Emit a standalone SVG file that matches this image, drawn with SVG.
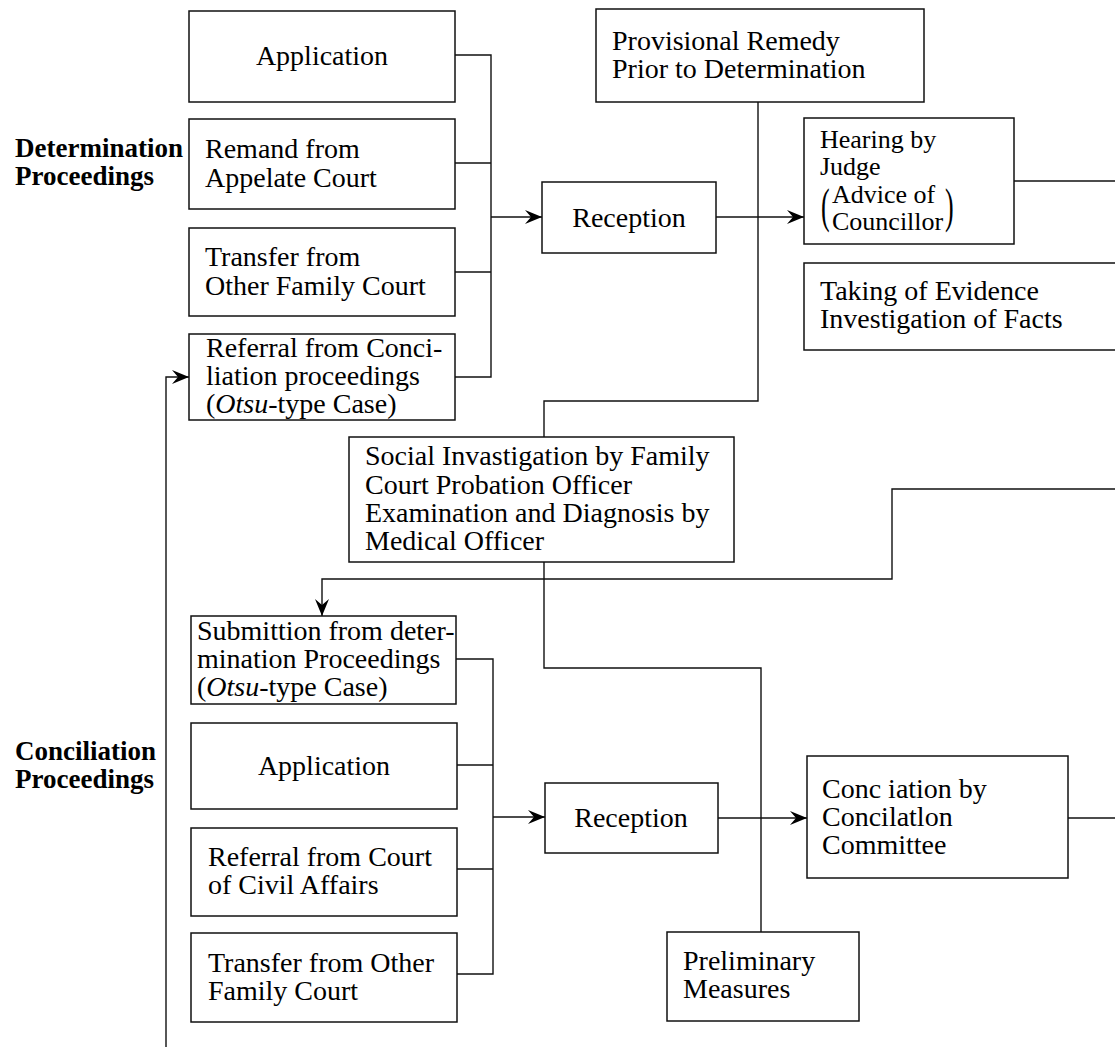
<svg xmlns="http://www.w3.org/2000/svg" width="1115" height="1052" viewBox="0 0 1115 1052">
<defs>
<style>
.box{fill:#fff;stroke:#111;stroke-width:1.5}
.t{font-family:"Liberation Serif","Times New Roman",serif;font-size:28px;fill:#000}
.s{font-size:26px}
.c{text-anchor:middle}
.lbl{font-family:"Liberation Serif","Times New Roman",serif;font-size:27px;font-weight:bold;fill:#000}
.ln{fill:none;stroke:#111;stroke-width:1.4}
.ar{marker-end:url(#arr)}
</style>
<marker id="arr" markerUnits="userSpaceOnUse" markerWidth="18" markerHeight="16" refX="17" refY="8" orient="auto" overflow="visible">
<path d="M0,1 L17,8 L0,15 L6,8 Z" fill="#000"/>
</marker>
</defs>
<rect width="1115" height="1052" fill="#fff"/>

<g id="labels">
<text class="lbl" x="15" y="157">Determination</text>
<text class="lbl" x="15" y="185">Proceedings</text>
<text class="lbl" x="15" y="760">Conciliation</text>
<text class="lbl" x="15" y="788">Proceedings</text>
</g>

<g id="connectors">
<polyline class="ln" points="455,55 491,55 491,377 455,377"/>
<line class="ln" x1="455" y1="163" x2="491" y2="163"/>
<line class="ln" x1="455" y1="272" x2="491" y2="272"/>
<line class="ln ar" x1="491" y1="217" x2="542" y2="217"/>
<line class="ln ar" x1="716" y1="217" x2="804" y2="217"/>
<polyline class="ln" points="758,102 758,401 544,401 544,437"/>
<line class="ln" x1="1014" y1="181" x2="1115" y2="181"/>
<polyline class="ln ar" points="1115,489 892,489 892,579 322,579 322,616"/>
<polyline class="ln" points="544,562 544,668 761,668 761,932"/>
<polyline class="ln" points="456,659 493,659 493,974 457,974"/>
<line class="ln" x1="457" y1="765" x2="493" y2="765"/>
<line class="ln" x1="457" y1="869" x2="493" y2="869"/>
<line class="ln ar" x1="493" y1="817" x2="545" y2="817"/>
<line class="ln ar" x1="718" y1="818" x2="807" y2="818"/>
<line class="ln" x1="1068" y1="818" x2="1115" y2="818"/>
<polyline class="ln ar" points="166,1047 166,377 189,377"/>
</g>

<g id="det-application">
<rect class="box" x="189" y="11" width="266" height="91"/>
<text class="t c" x="322" y="65">Application</text>
</g>
<g id="det-remand">
<rect class="box" x="189" y="119" width="266" height="90"/>
<text class="t" x="205" y="158">Remand from</text>
<text class="t" x="205" y="187">Appelate Court</text>
</g>
<g id="det-transfer">
<rect class="box" x="189" y="228" width="266" height="88"/>
<text class="t" x="205" y="266">Transfer from</text>
<text class="t" x="205" y="295">Other Family Court</text>
</g>
<g id="det-referral">
<rect class="box" x="189" y="334" width="266" height="86"/>
<text class="t" x="206" y="357">Referral from Conci-</text>
<text class="t" x="206" y="385">liation proceedings</text>
<text class="t" x="206" y="413">(<tspan font-style="italic">Otsu</tspan>-type Case)</text>
</g>

<g id="det-reception">
<rect class="box" x="542" y="182" width="174" height="71"/>
<text class="t c" x="629" y="227">Reception</text>
</g>

<g id="provisional">
<rect class="box" x="596" y="9" width="328" height="93"/>
<text class="t" x="612" y="50">Provisional Remedy</text>
<text class="t" x="612" y="78">Prior to Determination</text>
</g>

<g id="hearing">
<rect class="box" x="804" y="118" width="210" height="126"/>
<text class="t s" x="820" y="148">Hearing by</text>
<text class="t s" x="820" y="175">Judge</text>
<text class="t s" transform="translate(821,222) scale(1,1.9)" x="0" y="0">(</text>
<text class="t s" x="832" y="203">Advice of</text>
<text class="t s" x="832" y="230">Councillor</text>
<text class="t s" transform="translate(945,222) scale(1,1.9)" x="0" y="0">)</text>
</g>

<g id="evidence">
<rect class="box" x="804" y="263" width="320" height="87"/>
<text class="t" x="820" y="300">Taking of Evidence</text>
<text class="t" x="820" y="328">Investigation of Facts</text>
</g>

<g id="social">
<rect class="box" x="349" y="437" width="385" height="125"/>
<text class="t" x="365" y="465">Social Invastigation by Family</text>
<text class="t" x="365" y="494">Court Probation Officer</text>
<text class="t" x="365" y="522">Examination and Diagnosis by</text>
<text class="t" x="365" y="550">Medical Officer</text>
</g>

<g id="conc-submittion">
<rect class="box" x="191" y="616" width="265" height="88"/>
<text class="t" x="197" y="640">Submittion from deter-</text>
<text class="t" x="197" y="668">mination Proceedings</text>
<text class="t" x="197" y="696">(<tspan font-style="italic">Otsu</tspan>-type Case)</text>
</g>
<g id="conc-application">
<rect class="box" x="191" y="723" width="266" height="86"/>
<text class="t c" x="324" y="775">Application</text>
</g>
<g id="conc-referral">
<rect class="box" x="191" y="828" width="266" height="88"/>
<text class="t" x="208" y="866">Referral from Court</text>
<text class="t" x="208" y="894">of Civil Affairs</text>
</g>
<g id="conc-transfer">
<rect class="box" x="191" y="933" width="266" height="89"/>
<text class="t" x="208" y="972">Transfer from Other</text>
<text class="t" x="208" y="1000">Family Court</text>
</g>

<g id="conc-reception">
<rect class="box" x="545" y="783" width="173" height="70"/>
<text class="t c" x="631" y="827">Reception</text>
</g>

<g id="conciliation-committee">
<rect class="box" x="807" y="756" width="261" height="122"/>
<text class="t" x="822" y="798">Conc iation by</text>
<text class="t" x="822" y="826">Concilatlon</text>
<text class="t" x="822" y="854">Committee</text>
</g>

<g id="preliminary">
<rect class="box" x="667" y="932" width="192" height="89"/>
<text class="t" x="683" y="970">Preliminary</text>
<text class="t" x="683" y="998">Measures</text>
</g>
</svg>
